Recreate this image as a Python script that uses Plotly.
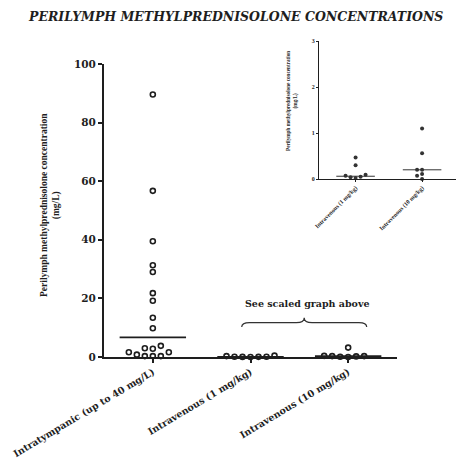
import plotly.graph_objects as go

W, H = 457, 465

# ---------------- data ----------------
categories = ["Intratympanic (up to 40 mg/L)", "Intravenous (1 mg/kg)", "Intravenous (10 mg/kg)"]
it_values = [89.6, 56.7, 39.5, 31.3, 29.0, 21.8, 19.2, 13.4, 9.8, 3.8, 3.0, 2.8, 1.6, 1.6, 0.8, 0.3, 0.3, 0.3]
iv1_values = [0.47, 0.30, 0.09, 0.07, 0.05, 0.04, 0.02]
iv10_main_values = [3.2, 0.4, 0.3, 0.3, 0.2, 0.1, 0.0]
main_medians = [6.7, 0.06, 0.3]

inset_categories = ["Intravenous (1 mg/kg)", "Intravenous (10 mg/kg)"]
inset_iv1_values = [0.47, 0.30, 0.09, 0.07, 0.05, 0.04, 0.02]
inset_iv10_values = [1.10, 0.56, 0.20, 0.20, 0.11, 0.07, 0.0]
inset_medians = [0.06, 0.20]

main_yticks = [0, 20, 40, 60, 80, 100]
inset_yticks = [0, 1, 2, 3]

# ---------------- layout geometry ----------------
main_xdom = [104 / W, 397 / W]
main_ydom = [1 - 357 / H, 1 - 64 / H]
main_xrange = [-0.5, 2.5]
main_yrange = [0, 100]
ins_xdom = [319 / W, 456 / W]
ins_ydom = [1 - 179 / H, 1 - 41 / H]
ins_xrange = [-0.55, 1.51]
ins_yrange = [0, 3]

INK = "#1e1e1e"
SERIF = "Liberation Serif"
WIDE = "DejaVu Serif"


def px_scale(dom, rng, size):
    return (dom[1] - dom[0]) * size / (rng[1] - rng[0])


def swarm(vals, px_per_val, px_per_cat, step_px, diam_px):
    order = sorted(range(len(vals)), key=lambda i: vals[i])
    placed = []
    off = [0.0] * len(vals)
    cands = [0] + [s * j for j in range(1, 20) for s in (-1, 1)]
    for i in order:
        y = vals[i] * px_per_val
        x = 0
        for c in cands:
            x = c * step_px
            if all((x - px) ** 2 + (y - py) ** 2 >= diam_px ** 2 for px, py in placed):
                break
        placed.append((x, y))
        off[i] = x / px_per_cat
    return off


fig = go.Figure()

# ---------- main panel ----------
m_ppv = px_scale(main_ydom, main_yrange, H)
m_ppc = px_scale(main_xdom, main_xrange, W)
for gi, vals in enumerate([it_values, iv1_values, iv10_main_values]):
    offs = swarm(vals, m_ppv, m_ppc, 8, 6)
    fig.add_trace(go.Scatter(
        x=[gi + o for o in offs], y=vals, mode="markers",
        marker=dict(symbol="circle-open", size=5, color=INK, line=dict(width=1.6, color=INK)),
        cliponaxis=False, showlegend=False, xaxis="x", yaxis="y"))
    fig.add_trace(go.Scatter(
        x=[gi - 0.34, gi + 0.34], y=[main_medians[gi]] * 2, mode="lines",
        line=dict(color=INK, width=1.6), cliponaxis=False, showlegend=False,
        xaxis="x", yaxis="y"))

# ---------- inset panel ----------
i_ppv = px_scale(ins_ydom, ins_yrange, H)
i_ppc = px_scale(ins_xdom, ins_xrange, W)
for gi, vals in enumerate([inset_iv1_values, inset_iv10_values]):
    offs = swarm(vals, i_ppv, i_ppc, 5, 4)
    fig.add_trace(go.Scatter(
        x=[gi + o for o in offs], y=vals, mode="markers",
        marker=dict(symbol="circle", size=4, color="#333333", line=dict(width=0)),
        cliponaxis=False, showlegend=False, xaxis="x2", yaxis="y2"))
    fig.add_trace(go.Scatter(
        x=[gi - 0.29, gi + 0.29], y=[inset_medians[gi]] * 2, mode="lines",
        line=dict(color="#333333", width=1), cliponaxis=False, showlegend=False,
        xaxis="x2", yaxis="y2"))

# brace under the annotation (main axis coordinates)
bx0, bx1, by0, bym, byt = 0.91, 2.19, 10.2, 11.7, 13.4
bxc = (bx0 + bx1) / 2
r = 0.08
brace = (f"M {bx0},{by0} Q {bx0},{bym} {bx0 + r},{bym} L {bxc - r},{bym} "
         f"Q {bxc},{bym} {bxc},{byt} Q {bxc},{bym} {bxc + r},{bym} "
         f"L {bx1 - r},{bym} Q {bx1},{bym} {bx1},{by0}")
fig.add_shape(type="path", path=brace, xref="x", yref="y",
              line=dict(color="#333333", width=1.2))

axis_common = dict(showgrid=False, zeroline=False, showline=True, linecolor=INK,
                   ticks="outside", tickcolor=INK, automargin=False)

fig.update_layout(
    width=W, height=H,
    margin=dict(l=0, r=0, t=0, b=0, autoexpand=False),
    paper_bgcolor="white", plot_bgcolor="white",
    font=dict(family=SERIF, color=INK),
    xaxis=dict(**axis_common, domain=main_xdom, range=main_xrange,
               tickvals=[0, 1, 2], ticktext=categories, tickangle=-31,
               linewidth=2, tickwidth=1.5, ticklen=4,
               tickfont=dict(family=WIDE, size=9.5, weight="bold", color=INK)),
    yaxis=dict(**axis_common, domain=main_ydom, range=main_yrange,
               tickvals=main_yticks, linewidth=2, tickwidth=1.5, ticklen=4,
               tickfont=dict(family=WIDE, size=10.5, weight="bold", color=INK)),
    xaxis2=dict(**axis_common, domain=ins_xdom, range=ins_xrange, anchor="y2",
                tickvals=[0, 1], ticktext=inset_categories, tickangle=-45,
                linewidth=1.2, tickwidth=1, ticklen=2,
                tickfont=dict(family=SERIF, size=6, weight="bold", color=INK)),
    yaxis2=dict(**axis_common, domain=ins_ydom, range=ins_yrange, anchor="x2",
                tickvals=inset_yticks, linewidth=1.2, tickwidth=1, ticklen=2,
                tickfont=dict(family=SERIF, size=6, weight="bold", color=INK)),
    annotations=[
        dict(text="<i>PERILYMPH METHYLPREDNISOLONE CONCENTRATIONS</i>", xref="paper", yref="paper",
             x=235 / W, y=1 - 16 / H, showarrow=False, xanchor="center", yanchor="middle",
             font=dict(family=WIDE, size=12.5, weight="bold", color=INK)),
        dict(text="Perilymph methylprednisolone concentration<br>(mg/L)", xref="paper", yref="paper",
             x=50 / W, y=1 - 205 / H, showarrow=False, textangle=-90,
             xanchor="center", yanchor="middle",
             font=dict(family=SERIF, size=9.5, weight="bold", color=INK)),
        dict(text="Perilymph methylprednisolone concentration<br>(mg/L)", xref="paper", yref="paper",
             x=292 / W, y=1 - 101 / H, showarrow=False, textangle=-90,
             xanchor="center", yanchor="middle",
             font=dict(family=SERIF, size=5.2, weight="bold", color=INK)),
        dict(text="See scaled graph above", xref="x", yref="y", x=1.58, y=18.4,
             showarrow=False, xanchor="center", yanchor="middle",
             font=dict(family=WIDE, size=9.5, weight="bold", color=INK)),
    ],
)

fig.write_html("out.html", config={"displayModeBar": False},
               post_script="document.body.style.margin='0';")
